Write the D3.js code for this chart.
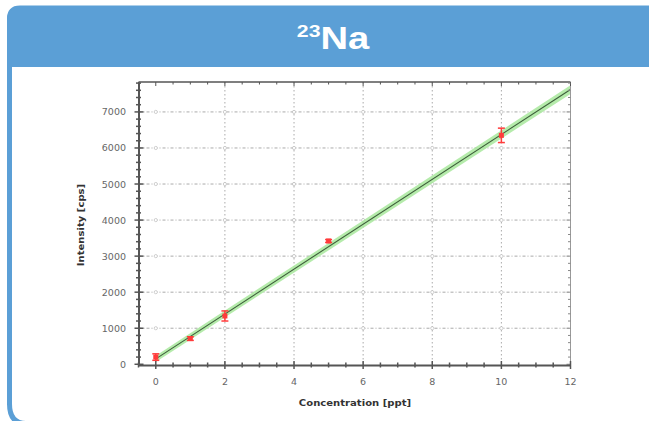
<!DOCTYPE html>
<html><head><meta charset="utf-8">
<script src="https://cdn.jsdelivr.net/npm/d3@7"></script>
<style>html,body{margin:0;padding:0;background:#fff;}svg{display:block;}</style>
</head><body>
<script>
// ---- data ----
const concentrations = [0, 1, 2, 5, 10];
const intensities = [200, 713, 1340, 3420, 6350];
const errors = [90, 50, 140, 40, 200];
const fitX = [0, 12];
const fitY = [150, 7620];
const bandHalf = [90, 120];
const xTicks = [0, 2, 4, 6, 8, 10, 12];
const yTicks = [0, 1000, 2000, 3000, 4000, 5000, 6000, 7000];
const title = "Na", isotope = "23";
const xLabel = "Concentration [ppt]", yLabel = "Intensity [cps]";

const W = 649, H = 421, blue = "#5b9fd6";
const svg = d3.select("body").append("svg").attr("width", W).attr("height", H);

// frame
svg.append("path")
  .attr("d", "M9.5,440 L9.5,19 Q9.5,8 20,8 L660,8 L660,440 Z")
  .attr("fill", "#fff");
svg.append("path")
  .attr("d", "M9.5,405 L9.5,19 Q9.5,8 20,8 L660,8")
  .attr("fill", "none").attr("stroke", blue).attr("stroke-width", 5);
svg.append("path")
  .attr("d", "M9.5,404 Q9.5,423.5 26,423.5 L660,423.5")
  .attr("fill", "none").attr("stroke", blue).attr("stroke-width", 5);
svg.append("path")
  .attr("d", "M7,67 L7,19 Q7,8 20,8 L660,8 L660,67 Z")
  .attr("fill", blue);

const t = svg.append("text").attr("transform", "translate(333,49) scale(1.25,1)").attr("text-anchor", "middle")
  .attr("fill", "#fff").attr("font-family", "Liberation Sans, Arial, sans-serif").attr("font-weight", "bold");
t.append("tspan").attr("font-size", 17).attr("dy", -12).text(isotope);
t.append("tspan").attr("font-size", 30.5).attr("dy", 12).text(title);

// scales
const x = d3.scaleLinear().domain([-0.5, 12]).range([138.5, 570.5]);
const y = d3.scaleLinear().domain([-20, 7830]).range([365, 82]);
const x0 = x.range()[0], x1 = x.range()[1], y0 = y.range()[0], y1 = y.range()[1];

const g = svg.append("g");
// grid
const gridX = xTicks.filter(v => v > 0 && v < 12);
const gridY = yTicks.filter(v => v > 0);
gridX.forEach(v => g.append("line").attr("x1", x(v)).attr("x2", x(v)).attr("y1", y1).attr("y2", y0)
  .attr("stroke", "#aaa").attr("stroke-dasharray", "1.5,2.5"));
gridY.forEach(v => g.append("line").attr("x1", x0).attr("x2", x1).attr("y1", y(v)).attr("y2", y(v))
  .attr("stroke", "#aaa").attr("stroke-dasharray", "3,2,1,2"));
[0].concat(gridX).forEach(a => gridY.forEach(b => {
  g.append("circle").attr("cx", x(a)).attr("cy", y(b)).attr("r", 1.6)
    .attr("fill", "#fff").attr("stroke", "#bbb").attr("stroke-width", 0.7);
}));

// fit band + line
const band = d3.area().x(d => x(d[0])).y0(d => y(d[1] - d[2])).y1(d => y(d[1] + d[2]));
const bandData = fitX.map((v, i) => [v, fitY[i], bandHalf[i]]);
g.append("path").attr("d", band(bandData)).attr("fill", "#a8e89c").attr("opacity", 0.85);
g.append("path").attr("d", d3.line().x(d => x(d[0])).y(d => y(d[1]))(bandData))
  .attr("stroke", "#3d5e3a").attr("stroke-width", 1.1).attr("fill", "none");

// frame axes
const minorX = d3.range(-0.5, 12.01, 0.5);
const minorY = d3.range(0, 7801, 200);
const ax = svg.append("g").attr("stroke", "#555");
ax.append("line").attr("x1", x0).attr("x2", x1).attr("y1", y1).attr("y2", y1).attr("stroke-width", 1.5).attr("stroke", "#555");
ax.append("line").attr("x1", x1).attr("x2", x1).attr("y1", y1).attr("y2", y0).attr("stroke-width", 1).attr("stroke", "#999");
minorX.forEach(v => ax.append("line").attr("x1", x(v)).attr("x2", x(v)).attr("y1", y1).attr("y2", y1 + (v % 2 === 0 ? 4 : 2.5)).attr("stroke-width", 1));
minorY.forEach(v => ax.append("line").attr("x1", x1).attr("x2", x1 - (v % 1000 === 0 ? 4 : 2.5)).attr("y1", y(v)).attr("y2", y(v)).attr("stroke-width", 1).attr("stroke", "#888"));
// bottom axis
const xAxis = d3.axisBottom(x).tickValues(minorX).tickSize(0).tickFormat("");
svg.append("g").attr("transform", `translate(0,${y0})`).call(xAxis).select(".domain").attr("stroke", "#555").attr("stroke-width", 2);
minorX.forEach(v => ax.append("line").attr("x1", x(v)).attr("x2", x(v))
  .attr("y1", y0 - (v % 2 === 0 ? 4 : 2.5)).attr("y2", y0 + (v % 2 === 0 ? 4 : 2.5)).attr("stroke-width", 1.5));
// left axis
const yAxis = d3.axisLeft(y).tickValues(minorY).tickSize(0).tickFormat("");
svg.append("g").attr("transform", `translate(${x0},0)`).call(yAxis).select(".domain").attr("stroke", "#555").attr("stroke-width", 2);
minorY.forEach(v => ax.append("line").attr("y1", y(v)).attr("y2", y(v))
  .attr("x1", x0 - (v % 1000 === 0 ? 4 : 2.5)).attr("x2", x0 + (v % 1000 === 0 ? 5 : 2.5)).attr("stroke-width", 1.5));

// tick labels
const lf = "DejaVu Sans, Verdana, sans-serif";
xTicks.forEach(v => svg.append("text").attr("x", x(v)).attr("y", y0 + 20).attr("text-anchor", "middle")
  .attr("font-family", lf).attr("font-size", 9.5).attr("fill", "#666").text(v));
yTicks.forEach(v => svg.append("text").attr("x", x0 - 12.5).attr("y", y(v) + 3.5).attr("text-anchor", "end")
  .attr("font-family", lf).attr("font-size", 9.5).attr("fill", "#666").text(v));

svg.append("text").attr("transform", "translate(355,406) scale(1.12,1)").attr("text-anchor", "middle")
  .attr("font-family", lf).attr("font-size", 9).attr("font-weight", "bold").attr("fill", "#333").text(xLabel);
svg.append("text").attr("transform", "translate(84,225) rotate(-90) scale(1.12,1)").attr("text-anchor", "middle")
  .attr("font-family", lf).attr("font-size", 9).attr("font-weight", "bold").attr("fill", "#333").text(yLabel);

// data points with error bars
const red = "#ff3b3b";
const pts = svg.append("g");
concentrations.forEach((c, i) => {
  const cx = x(c), cy = y(intensities[i]);
  const top = y(intensities[i] + errors[i]), bot = y(intensities[i] - errors[i]);
  pts.append("line").attr("x1", cx).attr("x2", cx).attr("y1", top).attr("y2", bot).attr("stroke", red).attr("stroke-width", 1.5);
  [top, bot].forEach(yy => pts.append("line").attr("x1", cx - 3.5).attr("x2", cx + 3.5).attr("y1", yy).attr("y2", yy).attr("stroke", red).attr("stroke-width", 1.5));
  pts.append("rect").attr("x", cx - 2.5).attr("y", cy - 2.5).attr("width", 5).attr("height", 5).attr("fill", red);
});
</script>
</body></html>
